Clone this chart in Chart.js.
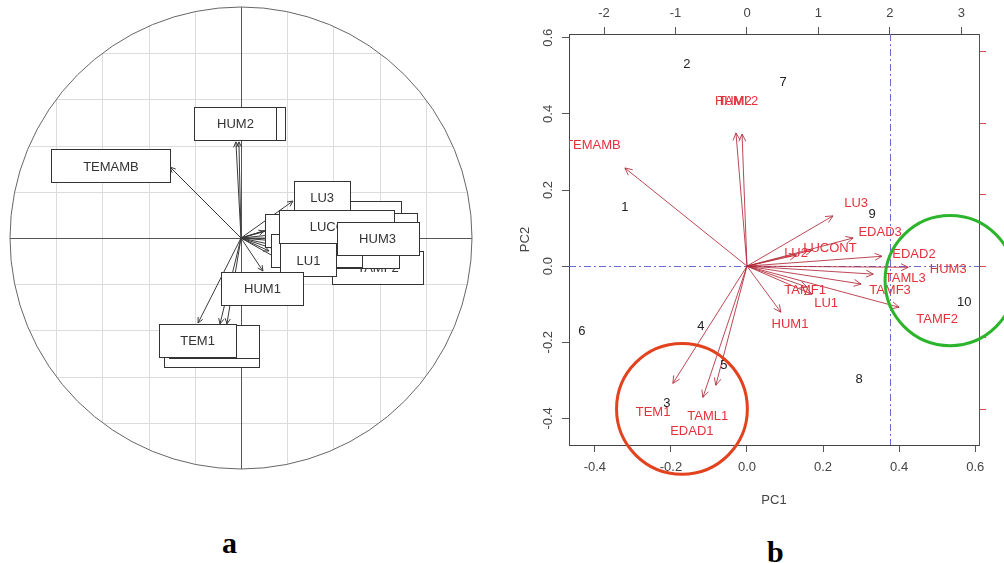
<!DOCTYPE html>
<html>
<head>
<meta charset="utf-8">
<script src="https://cdn.jsdelivr.net/npm/chart.js@4/dist/chart.umd.min.js"></script>
<style>
  body { margin: 0; background: #fff; width: 1004px; height: 563px; overflow: hidden; position: relative; }
  #ca { position: absolute; left: 0; top: 0; }
  #cb { position: absolute; left: 500px; top: 0; }
  .tag { position: absolute; font: bold 30px/30px 'Liberation Serif', 'Times New Roman', serif; color: #000; }
</style>
</head>
<body>
<canvas id="ca" width="482" height="480"></canvas>
<canvas id="cb" width="504" height="520"></canvas>
<div class="tag" style="left:222px;top:528px">a</div>
<div class="tag" style="left:767px;top:537px">b</div>
<script>
// ---- panel a: correlation circle (drawing order, back to front) ----
const corNames = ['TEMAMB', 'TAML2', 'HUM2', 'EDAD3', 'EDAD2', 'TAML3', 'LU3', 'TAMF2', 'TAMF3',
  'LU2', 'TAMF1', 'LUCONT', 'LU1', 'HUM3', 'HUM1', 'EDAD1', 'TAML1', 'TEM1']
const corX = [-0.307, -0.009, -0.022, 0.277, 0.346, 0.351, 0.225, 0.394, 0.281,
  0.100, 0.121, 0.173, 0.169, 0.420, 0.095, -0.091, -0.061, -0.186]
const corY = [0.307, 0.416, 0.416, 0.087, 0.035, -0.030, 0.160, -0.130, -0.061,
  0.030, -0.056, 0.048, -0.095, -0.002, -0.143, -0.372, -0.372, -0.368]
// where each label box sits (same units as the circle)
const corLabelX = [-0.563, -0.006, -0.024, 0.487, 0.556, 0.558, 0.351, 0.593, 0.489,
  0.225, 0.329, 0.413, 0.292, 0.591, 0.093, -0.126, -0.117, -0.188]
const corLabelY = [0.312, 0.494, 0.496, 0.089, 0.037, -0.032, 0.177, -0.128, -0.058,
  0.032, -0.056, 0.048, -0.095, -0.002, -0.219, -0.487, -0.450, -0.442]
const corGrid = [-0.8, -0.6, -0.4, -0.2, 0.2, 0.4, 0.6, 0.8]

// ---- panel b: biplot ----
const obsLabels = ['1', '2', '3', '4', '5', '6', '7', '8', '9', '10']
const obsPC1 = [-0.321, -0.158, -0.211, -0.121, -0.061, -0.434, 0.095, 0.295, 0.329, 0.571]
const obsPC2 = [0.155, 0.529, -0.361, -0.158, -0.261, -0.171, 0.484, -0.297, 0.137, -0.095]

const varNames = ['TEMAMB', 'HUM2', 'TAML2', 'LU3', 'EDAD3', 'LUCONT', 'LU2', 'EDAD2', 'HUM3',
  'TAML3', 'TAMF3', 'TAMF2', 'TAMF1', 'LU1', 'HUM1', 'TEM1', 'TAML1', 'EDAD1']
const varPC1 = [-0.321, -0.029, -0.013, 0.226, 0.279, 0.171, 0.130, 0.355, 0.424,
  0.332, 0.300, 0.400, 0.158, 0.171, 0.089, -0.195, -0.116, -0.082]
const varPC2 = [0.258, 0.350, 0.347, 0.132, 0.074, 0.042, 0.029, 0.026, -0.003,
  -0.021, -0.047, -0.108, -0.055, -0.074, -0.121, -0.308, -0.345, -0.313]
const varLabelPC1 = [-0.405, -0.036, -0.024, 0.287, 0.350, 0.218, 0.129, 0.439, 0.529,
  0.416, 0.376, 0.500, 0.153, 0.208, 0.113, -0.247, -0.103, -0.145]
const varLabelPC2 = [0.316, 0.434, 0.434, 0.166, 0.089, 0.047, 0.034, 0.032, -0.008,
  -0.032, -0.063, -0.139, -0.063, -0.097, -0.153, -0.384, -0.395, -0.434]

const pc1Ticks = [-0.4, -0.2, 0, 0.2, 0.4, 0.6]
const pc2Ticks = [-0.4, -0.2, 0, 0.2, 0.4, 0.6]
const loadTicks = [-2, -1, 0, 1, 2, 3]
const pc1Range = [-0.468, 0.61]
const pc2Range = [-0.47, 0.61]
const loadScale = 5.32
const refLineTop = 2

// groups circled on the biplot (red, green)
const circlePC1 = [-0.171, 0.534]
const circlePC2 = [-0.375, -0.038]
const circleR = [0.172, 0.171]

const sans = '"Liberation Sans", Arial, sans-serif'

const arrowHead = (ctx, x0, y0, x1, y1, len) => {
  const a = Math.atan2(y1 - y0, x1 - x0)
  ctx.beginPath()
  ctx.moveTo(x1 - len * Math.cos(a - 0.45), y1 - len * Math.sin(a - 0.45))
  ctx.lineTo(x1, y1)
  ctx.lineTo(x1 - len * Math.cos(a + 0.45), y1 - len * Math.sin(a + 0.45))
  ctx.stroke()
}

const corPlugin = {
  id: 'corCircle',
  beforeDatasetsDraw(chart) {
    const { ctx, scales: { x, y } } = chart
    const cx = x.getPixelForValue(0)
    const cy = y.getPixelForValue(0)
    const r = x.getPixelForValue(1) - cx
    ctx.save()
    ctx.beginPath()
    ctx.arc(cx, cy, r, 0, Math.PI * 2)
    ctx.clip()
    ctx.strokeStyle = '#dcdcdc'
    ctx.lineWidth = 1
    corGrid.forEach(v => {
      const px = Math.round(x.getPixelForValue(v)) + 0.5
      const py = Math.round(y.getPixelForValue(v)) + 0.5
      ctx.beginPath(); ctx.moveTo(px, cy - r); ctx.lineTo(px, cy + r); ctx.stroke()
      ctx.beginPath(); ctx.moveTo(cx - r, py); ctx.lineTo(cx + r, py); ctx.stroke()
    })
    ctx.strokeStyle = '#555'
    const ax = Math.round(cx) + 0.5
    const ay = Math.round(cy) + 0.5
    ctx.beginPath(); ctx.moveTo(ax, cy - r); ctx.lineTo(ax, cy + r); ctx.stroke()
    ctx.beginPath(); ctx.moveTo(cx - r, ay); ctx.lineTo(cx + r, ay); ctx.stroke()
    ctx.restore()
    ctx.save()
    ctx.strokeStyle = '#666'
    ctx.lineWidth = 1
    ctx.beginPath()
    ctx.arc(cx, cy, r, 0, Math.PI * 2)
    ctx.stroke()
    ctx.restore()
  },
  afterDatasetsDraw(chart) {
    const { ctx, scales: { x, y } } = chart
    const cx = x.getPixelForValue(0)
    const cy = y.getPixelForValue(0)
    ctx.save()
    ctx.strokeStyle = '#3a3a3a'
    ctx.lineWidth = 1
    corNames.forEach((n, i) => {
      arrowHead(ctx, cx, cy, x.getPixelForValue(corX[i]), y.getPixelForValue(corY[i]), 6)
    })
    ctx.font = '13px ' + sans
    ctx.textAlign = 'center'
    ctx.textBaseline = 'middle'
    corNames.forEach((n, i) => {
      const bx = x.getPixelForValue(corLabelX[i])
      const by = y.getPixelForValue(corLabelY[i])
      const w = Math.round(ctx.measureText(n).width * 2 + 8)
      const h = 33
      const l = Math.round(bx - w / 2) + 0.5
      const t = Math.round(by - h / 2) + 0.5
      ctx.fillStyle = '#fff'
      ctx.fillRect(l, t, w, h)
      ctx.strokeStyle = '#333'
      ctx.strokeRect(l, t, w, h)
      ctx.fillStyle = '#333'
      ctx.fillText(n, bx, by + 1)
    })
    ctx.restore()
  }
}

new Chart(document.getElementById('ca'), {
  type: 'scatter',
  data: {
    datasets: corNames.map((n, i) => ({
      label: n,
      data: [{ x: 0, y: 0 }, { x: corX[i], y: corY[i] }],
      showLine: true,
      borderColor: '#3a3a3a',
      borderWidth: 1,
      pointRadius: 0,
    })),
  },
  options: {
    responsive: false,
    animation: false,
    events: [],
    layout: { padding: { left: 10, right: 10, top: 7, bottom: 11 } },
    plugins: { legend: { display: false }, tooltip: { enabled: false } },
    scales: {
      x: { type: 'linear', min: -1, max: 1, display: false },
      y: { type: 'linear', min: -1, max: 1, display: false },
    },
  },
  plugins: [corPlugin],
})

const biplotPlugin = {
  id: 'biplot',
  beforeDatasetsDraw(chart) {
    const { ctx, chartArea: a, scales: { x2, y2 } } = chart
    ctx.save()
    ctx.strokeStyle = '#6b6bd6'
    ctx.lineWidth = 1
    ctx.setLineDash([7, 3, 2, 3])
    const hy = Math.round(y2.getPixelForValue(0)) + 0.5
    ctx.beginPath(); ctx.moveTo(a.left, hy); ctx.lineTo(a.right, hy); ctx.stroke()
    const vx = Math.round(x2.getPixelForValue(refLineTop)) + 0.5
    ctx.beginPath(); ctx.moveTo(vx, a.top); ctx.lineTo(vx, a.bottom); ctx.stroke()
    ctx.restore()
  },
  afterDatasetsDraw(chart) {
    const { ctx, chartArea: a, scales: { x, y } } = chart
    const ox = x.getPixelForValue(0)
    const oy = y.getPixelForValue(0)
    ctx.save()
    ctx.beginPath()
    ctx.rect(a.left, a.top, a.right - a.left, a.bottom - a.top)
    ctx.clip()
    ctx.strokeStyle = 'rgba(178, 40, 55, 0.85)'
    ctx.lineWidth = 1
    varNames.forEach((n, i) => {
      arrowHead(ctx, ox, oy, x.getPixelForValue(varPC1[i]), y.getPixelForValue(varPC2[i]), 8)
    })
    ctx.font = '13px ' + sans
    ctx.textAlign = 'center'
    ctx.textBaseline = 'middle'
    ctx.fillStyle = '#e4323c'
    varNames.forEach((n, i) => {
      ctx.fillText(n, x.getPixelForValue(varLabelPC1[i]), y.getPixelForValue(varLabelPC2[i]))
    })
    ctx.fillStyle = '#222'
    obsLabels.forEach((n, i) => {
      ctx.fillText(n, x.getPixelForValue(obsPC1[i]), y.getPixelForValue(obsPC2[i]))
    })
    ctx.restore()
  },
  afterDraw(chart) {
    const { ctx, scales: { x, y } } = chart
    ctx.save()
    ctx.font = '13px ' + sans
    ctx.fillStyle = '#444'
    ctx.textAlign = 'center'
    ctx.textBaseline = 'middle'
    y.ticks.forEach(t => {
      ctx.save()
      ctx.translate(y.right - 21, y.getPixelForValue(t.value))
      ctx.rotate(-Math.PI / 2)
      ctx.fillText(t.value.toFixed(1), 0, 0)
      ctx.restore()
    })
    const colors = ['#e3421f', '#2cb52c']
    ctx.lineWidth = 3
    circlePC1.forEach((cx, i) => {
      const px = x.getPixelForValue(cx)
      const py = y.getPixelForValue(circlePC2[i])
      const r = x.getPixelForValue(circleR[i]) - x.getPixelForValue(0)
      ctx.strokeStyle = colors[i]
      ctx.beginPath()
      ctx.arc(px, py, r, 0, Math.PI * 2)
      ctx.stroke()
    })
    ctx.restore()
  }
}

const tickFont = { family: sans, size: 13 }
const axisBase = {
  type: 'linear',
  grid: { drawOnChartArea: false, tickLength: 7, color: '#555' },
  border: { display: true, color: '#444' },
}

new Chart(document.getElementById('cb'), {
  type: 'scatter',
  data: {
    datasets: [
      ...varNames.map((n, i) => ({
        label: n,
        data: [{ x: 0, y: 0 }, { x: varPC1[i], y: varPC2[i] }],
        showLine: true,
        borderColor: 'rgba(178, 40, 55, 0.85)',
        borderWidth: 1,
        pointRadius: 0,
      })),
      {
        label: 'obs',
        data: obsPC1.map((v, i) => ({ x: v, y: obsPC2[i] })),
        pointRadius: 0,
      },
    ],
  },
  options: {
    responsive: false,
    animation: false,
    events: [],
    layout: { padding: 0 },
    plugins: { legend: { display: false }, tooltip: { enabled: false } },
    scales: {
      x: {
        ...axisBase,
        position: 'bottom',
        min: pc1Range[0],
        max: pc1Range[1],
        afterBuildTicks: s => { s.ticks = pc1Ticks.map(v => ({ value: v })) },
        afterFit: s => { s.height = 75 },
        ticks: { font: tickFont, color: '#444', padding: 8, maxRotation: 0, callback: v => v.toFixed(1) },
        title: { display: true, text: 'PC1', font: tickFont, color: '#444', padding: { top: 4, bottom: 12 } },
      },
      y: {
        ...axisBase,
        position: 'left',
        min: pc2Range[0],
        max: pc2Range[1],
        afterBuildTicks: s => { s.ticks = pc2Ticks.map(v => ({ value: v })) },
        afterFit: s => { s.width = 69 },
        ticks: { display: false },
        title: { display: true, text: 'PC2', font: tickFont, color: '#444', padding: { top: 18, bottom: 0 } },
      },
      x2: {
        ...axisBase,
        position: 'top',
        min: pc1Range[0] * loadScale,
        max: pc1Range[1] * loadScale,
        afterBuildTicks: s => { s.ticks = loadTicks.map(v => ({ value: v })) },
        afterFit: s => { s.height = 34 },
        ticks: { font: tickFont, color: '#444', padding: 6, maxRotation: 0, callback: v => String(v) },
      },
      y2: {
        ...axisBase,
        position: 'right',
        min: pc2Range[0] * loadScale,
        max: pc2Range[1] * loadScale,
        afterBuildTicks: s => { s.ticks = loadTicks.map(v => ({ value: v })) },
        afterFit: s => { s.width = 25 },
        grid: { drawOnChartArea: false, tickLength: 7, color: '#d9474f' },
        border: { display: true, color: '#555' },
        ticks: { display: false },
      },
    },
  },
  plugins: [biplotPlugin],
})
</script>
</body>
</html>
